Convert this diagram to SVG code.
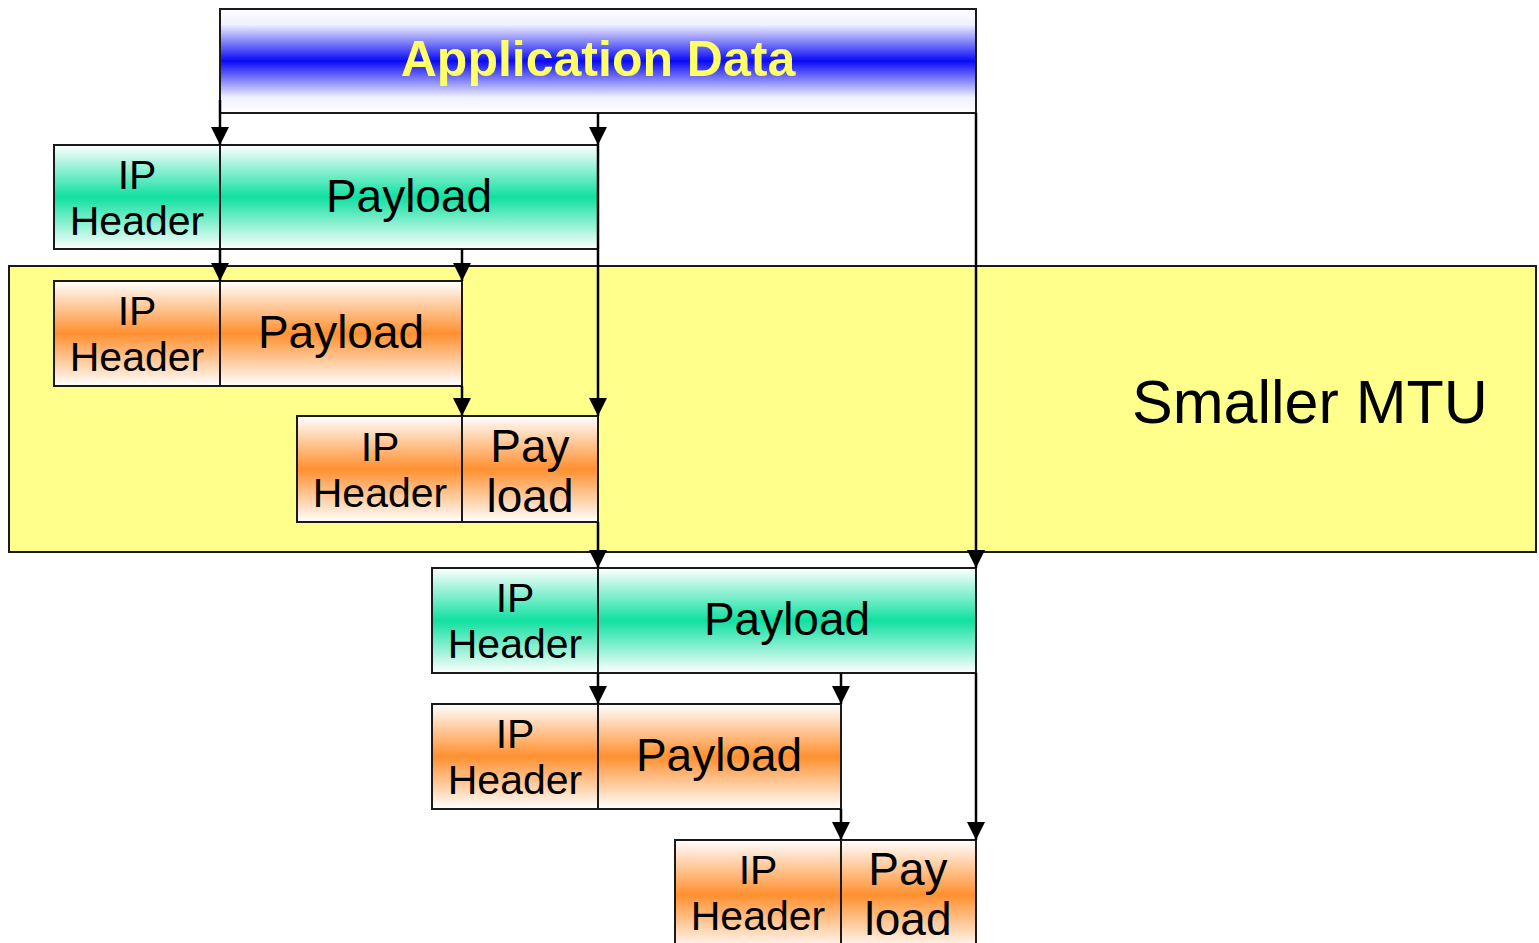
<svg xmlns="http://www.w3.org/2000/svg" width="1539" height="943" viewBox="0 0 1539 943">
<style>
.box{stroke:#1a1a1a;stroke-width:2}
.t{font-family:"Liberation Sans",Arial,sans-serif;fill:#000;text-anchor:middle}
.h{font-size:41px}
.p{font-size:46px}
.c{stroke:#000;stroke-width:2.5;fill:none;marker-end:url(#ah)}
</style>
<defs>
<linearGradient id="gB" x1="0" y1="0" x2="0" y2="1">
<stop offset="0" stop-color="#ffffff"/><stop offset="0.15" stop-color="#f0f0ff"/><stop offset="0.5" stop-color="#0a0af5"/><stop offset="0.85" stop-color="#f0f0ff"/><stop offset="1" stop-color="#ffffff"/>
</linearGradient>
<linearGradient id="gG" x1="0" y1="0" x2="0" y2="1">
<stop offset="0" stop-color="#ffffff"/><stop offset="0.5" stop-color="#10e0a0"/><stop offset="1" stop-color="#ffffff"/>
</linearGradient>
<linearGradient id="gO" x1="0" y1="0" x2="0" y2="1">
<stop offset="0" stop-color="#ffffff"/><stop offset="0.5" stop-color="#ff9030"/><stop offset="1" stop-color="#ffffff"/>
</linearGradient>
<marker id="ah" markerUnits="userSpaceOnUse" markerWidth="18" markerHeight="18" viewBox="0 0 16 16" refX="8" refY="16" orient="0">
<path d="M0 0 L16 0 L8 16 Z" fill="#000"/>
</marker>
</defs>

<g id="mtu">
<rect x="9" y="266" width="1527" height="286" fill="#ffff8c" stroke="#1a1a1a" stroke-width="2"/>
<text class="t" x="1310" y="423" font-size="61">Smaller MTU</text>
</g>

<g id="appdata">
<rect class="box" x="220" y="9" width="756" height="104" fill="url(#gB)"/>
<text x="598" y="76" font-family="'Liberation Sans',Arial,sans-serif" font-weight="bold" font-size="50" fill="#ffff66" text-anchor="middle">Application Data</text>
</g>

<g id="pkt1">
<rect class="box" x="54" y="145" width="166" height="104" fill="url(#gG)"/>
<rect class="box" x="220" y="145" width="378" height="104" fill="url(#gG)"/>
<text class="t h" x="137" y="189">IP</text>
<text class="t h" x="137" y="235">Header</text>
<text class="t p" x="409" y="212">Payload</text>
</g>

<g id="frag1">
<rect class="box" x="54" y="281" width="166" height="105" fill="url(#gO)"/>
<rect class="box" x="220" y="281" width="242" height="105" fill="url(#gO)"/>
<text class="t h" x="137" y="325">IP</text>
<text class="t h" x="137" y="371">Header</text>
<text class="t p" x="341" y="348">Payload</text>
</g>

<g id="frag2">
<rect class="box" x="297" y="416" width="165" height="106" fill="url(#gO)"/>
<rect class="box" x="462" y="416" width="136" height="106" fill="url(#gO)"/>
<text class="t h" x="380" y="461">IP</text>
<text class="t h" x="380" y="507">Header</text>
<text class="t p" x="530" y="462">Pay</text>
<text class="t p" x="530" y="512">load</text>
</g>

<g id="pkt2">
<rect class="box" x="432" y="568" width="166" height="105" fill="url(#gG)"/>
<rect class="box" x="598" y="568" width="378" height="105" fill="url(#gG)"/>
<text class="t h" x="515" y="612">IP</text>
<text class="t h" x="515" y="658">Header</text>
<text class="t p" x="787" y="635">Payload</text>
</g>

<g id="frag3">
<rect class="box" x="432" y="704" width="166" height="105" fill="url(#gO)"/>
<rect class="box" x="598" y="704" width="243" height="105" fill="url(#gO)"/>
<text class="t h" x="515" y="748">IP</text>
<text class="t h" x="515" y="794">Header</text>
<text class="t p" x="719" y="771">Payload</text>
</g>

<g id="frag4">
<rect class="box" x="675" y="840" width="166" height="110" fill="url(#gO)"/>
<rect class="box" x="841" y="840" width="135" height="110" fill="url(#gO)"/>
<text class="t h" x="758" y="884">IP</text>
<text class="t h" x="758" y="930">Header</text>
<text class="t p" x="908" y="885">Pay</text>
<text class="t p" x="908" y="935">load</text>
</g>

<g id="connectors">
<line class="c" x1="220" y1="100" x2="220" y2="145"/>
<line class="c" x1="598" y1="113" x2="598" y2="145"/>
<line class="c" x1="976" y1="113" x2="976" y2="568"/>
<line class="c" x1="220" y1="249" x2="220" y2="281"/>
<line class="c" x1="462" y1="249" x2="462" y2="281"/>
<line class="c" x1="598" y1="145" x2="598" y2="416"/>
<line class="c" x1="462" y1="386" x2="462" y2="416"/>
<line class="c" x1="598" y1="522" x2="598" y2="568"/>
<line class="c" x1="598" y1="673" x2="598" y2="704"/>
<line class="c" x1="841" y1="673" x2="841" y2="704"/>
<line class="c" x1="841" y1="809" x2="841" y2="840"/>
<line class="c" x1="976" y1="673" x2="976" y2="840"/>
</g>
</svg>
